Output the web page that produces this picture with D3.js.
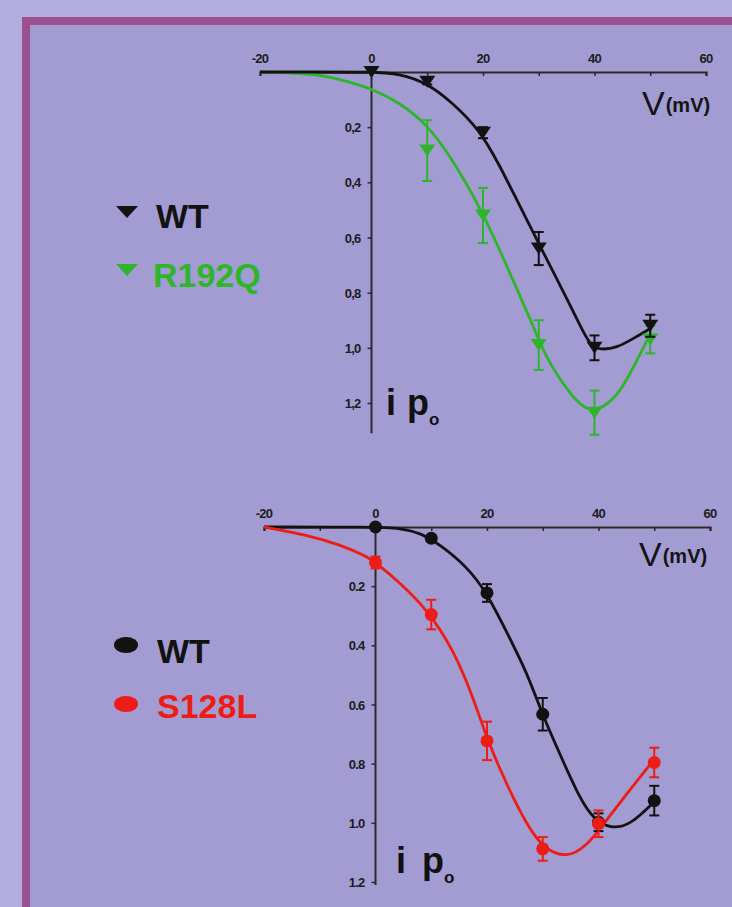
<!DOCTYPE html>
<html>
<head>
<meta charset="utf-8">
<script src="https://cdn.jsdelivr.net/npm/d3@7"></script>
<style>
  html, body { margin: 0; padding: 0; background: #b3addf; }
  svg { display: block; }
</style>
</head>
<body>
<svg id="chart" width="732" height="907"></svg>
<script>
// ---------- DATA ----------
const xTicks = [-20, 0, 20, 40, 60];
const xMinorTicks = [-10, 10, 30, 50];
const yTicks = [0.2, 0.4, 0.6, 0.8, 1.0, 1.2];
const yTickLabelsTop = ["0,2", "0,4", "0,6", "0,8", "1,0", "1,2"];
const yTickLabelsBottom = ["0.2", "0.4", "0.6", "0.8", "1.0", "1.2"];
const voltages = [0, 10, 20, 30, 40, 50];

// top panel: WT vs R192Q (down triangles)
const topWT = [0, 0.035, 0.22, 0.64, 1.0, 0.92];
const topWTerr = [0, 0.01, 0.02, 0.06, 0.045, 0.04];
const topR192Q = [0, 0.285, 0.52, 0.99, 1.235, 0.97];
const topR192Qerr = [0, 0.11, 0.10, 0.09, 0.08, 0.05];

const topWTfitV = [-20, -10, 0, 5, 10, 14.6, 19.4, 23, 25.4, 27.8, 30.2, 32.6, 35, 37.4, 39.2, 41, 44, 47, 50];
const topWTfit  = [0, 0, 0, 0.005, 0.04, 0.113, 0.21, 0.34, 0.437, 0.533, 0.63, 0.725, 0.82, 0.918, 0.99, 1.008, 1.0, 0.966, 0.93];
const topR192QfitV = [-20, -15, -10, -5, 0, 5, 10, 14.6, 20, 24.2, 29, 31.4, 35, 37.5, 39.8, 42, 44.6, 47, 50];
const topR192Qfit  = [0, 0.002, 0.008, 0.03, 0.06, 0.11, 0.19, 0.318, 0.51, 0.70, 0.92, 1.04, 1.15, 1.21, 1.23, 1.21, 1.16, 1.07, 0.95];

// bottom panel: WT vs S128L (circles)
const bottomWT = [0, 0.038, 0.223, 0.633, 0.998, 0.925];
const bottomWTerr = [0, 0.01, 0.03, 0.055, 0.03, 0.05];
const bottomS128L = [0.12, 0.296, 0.723, 1.088, 1.003, 0.796];
const bottomS128Lerr = [0.02, 0.05, 0.065, 0.04, 0.045, 0.05];

const bottomWTfitV = [-20, 0, 4.5, 8.1, 11.6, 16.4, 20, 23.6, 27.2, 29.9, 33.2, 36.7, 39.1, 42.1, 45.7, 50.2];
const bottomWTfit  = [0, 0, 0.004, 0.02, 0.06, 0.134, 0.223, 0.358, 0.493, 0.633, 0.773, 0.92, 0.987, 1.02, 1.009, 0.925];
const bottomS128LfitV = [-20, -12.2, -6.3, -1.5, 0, 4.5, 9.3, 14, 17.6, 20, 23.6, 27.2, 30.2, 34.4, 37.9, 40.3, 43.9, 50];
const bottomS128Lfit  = [0, 0.027, 0.06, 0.10, 0.12, 0.19, 0.28, 0.414, 0.58, 0.717, 0.874, 1.009, 1.088, 1.12, 1.076, 1.02, 0.93, 0.785];

// ---------- STYLE ----------
const BLACK = "#121212", GREEN = "#2fb52c", RED = "#ee1c17";
const FONT = "'Liberation Sans', Arial, sans-serif";

const svg = d3.select("#chart");

// background and frame
svg.append("rect").attr("x", 0).attr("y", 0).attr("width", 732).attr("height", 907).attr("fill", "#b3addf");
svg.append("rect").attr("x", 26).attr("y", 21).attr("width", 760).attr("height", 960)
  .attr("fill", "#a29cd3").attr("stroke", "#9b5190").attr("stroke-width", 8);

function drawPanel(cfg) {
  const x = d3.scaleLinear().domain([-20, 60]).range(cfg.xRange);
  const y = d3.scaleLinear().domain([0, 1.2]).range(cfg.yRange);
  const g = svg.append("g");

  // x axis
  const xAxis = d3.axisBottom(x).tickValues(xTicks.concat(xMinorTicks).sort((a,b)=>a-b))
    .tickSize(4).tickFormat("");
  const gx = g.append("g").attr("transform", `translate(0,${y(0)})`).call(xAxis);
  gx.select(".domain").attr("stroke", "#2b2b22").attr("stroke-width", 2.2);
  gx.selectAll(".tick line").attr("stroke", "#2b2b22").attr("stroke-width", 1.5);
  g.selectAll(".xlab").data(xTicks).join("text")
    .attr("x", d => x(d)).attr("y", cfg.xLabelY)
    .attr("text-anchor", "middle").attr("font-family", FONT).attr("font-weight", "bold")
    .attr("font-size", 13).attr("fill", "#1d1d1d").attr("letter-spacing", -0.8)
    .text(d => d);

  // y axis
  const yAxis = d3.axisLeft(y).tickValues(yTicks).tickSize(4).tickFormat("");
  const gy = g.append("g").attr("transform", `translate(${x(0)},0)`).call(yAxis);
  gy.select(".domain").remove();
  gy.selectAll(".tick line").attr("stroke", "#2b2b2b").attr("stroke-width", 1.5);
  g.append("line").attr("x1", x(0)).attr("x2", x(0)).attr("y1", y(0)).attr("y2", y(cfg.yAxisEnd))
    .attr("stroke", "#2a2a2a").attr("stroke-width", 2);
  g.selectAll(".ylab").data(yTicks).join("text")
    .attr("x", x(0) - cfg.yLabelGap).attr("y", d => y(d) + 5)
    .attr("text-anchor", "end").attr("font-family", FONT).attr("font-weight", "bold")
    .attr("font-size", 13).attr("fill", "#1d1d1d").attr("letter-spacing", -0.8)
    .text((d, i) => cfg.yLabels[i]);

  // V(mV) label
  const vl = g.append("text").attr("x", cfg.vLabel[0]).attr("y", cfg.vLabel[1])
    .attr("font-family", FONT).attr("fill", "#141414");
  vl.append("tspan").attr("font-size", 34).text("V");
  vl.append("tspan").attr("font-size", 20).attr("font-weight", "bold").attr("dy", -3).attr("dx", 1).text("(mV)");

  // i p_o label
  const ip = g.append("text").attr("x", cfg.ipLabel[0]).attr("y", cfg.ipLabel[1])
    .attr("font-family", FONT).attr("font-weight", "bold").attr("fill", "#111");
  ip.append("tspan").attr("font-size", 36).text("i");
  ip.append("tspan").attr("font-size", 36).attr("dx", cfg.ipGap).text("p");
  ip.append("tspan").attr("font-size", 17).attr("dy", 10).text("o");

  const line = d3.line().x(d => x(d[0])).y(d => y(d[1])).curve(d3.curveBasis);

  cfg.series.forEach(s => {
    const fit = s.fitV.map((v, i) => [v, s.fit[i]]);
    g.append("path").datum(fit).attr("d", line)
      .attr("fill", "none").attr("stroke", s.color).attr("stroke-width", 2.8);
  });
  cfg.series.forEach(s => {
    const pts = voltages.map((v, i) => ({ v, m: s.values[i], e: s.errors[i] }));
    const eg = g.append("g").attr("stroke", s.color).attr("stroke-width", 2);
    pts.filter(p => p.e > 0).forEach(p => {
      eg.append("line").attr("x1", x(p.v)).attr("x2", x(p.v)).attr("y1", y(p.m - p.e)).attr("y2", y(p.m + p.e));
      [p.m - p.e, p.m + p.e].forEach(yy => {
        eg.append("line").attr("x1", x(p.v) - 5).attr("x2", x(p.v) + 5).attr("y1", y(yy)).attr("y2", y(yy));
      });
    });
    if (s.shape === "tri") {
      g.selectAll(null).data(pts).join("path")
        .attr("d", d => `M${x(d.v) - 8},${y(d.m) - 6}L${x(d.v) + 8},${y(d.m) - 6}L${x(d.v)},${y(d.m) + 6}Z`)
        .attr("fill", s.color);
    } else {
      g.selectAll(null).data(pts).join("circle")
        .attr("cx", d => x(d.v)).attr("cy", d => y(d.m)).attr("r", 6.5)
        .attr("fill", s.color);
    }
  });

  // legend
  cfg.legend.forEach(l => {
    if (cfg.series[0].shape === "tri") {
      g.append("path").attr("d", `M${l.mx - 11},${l.my - 6}L${l.mx + 11},${l.my - 6}L${l.mx},${l.my + 6}Z`).attr("fill", l.color);
    } else {
      g.append("ellipse").attr("cx", l.mx).attr("cy", l.my).attr("rx", 12).attr("ry", 8).attr("fill", l.color);
    }
    g.append("text").attr("x", l.tx).attr("y", l.ty).attr("font-family", FONT).attr("font-weight", "bold")
      .attr("font-size", 34).attr("fill", l.color).text(l.text);
  });
}

drawPanel({
  xRange: [260, 706], yRange: [72, 403], yAxisEnd: 1.31, xLabelY: 63, yLabelGap: 11,
  yLabels: yTickLabelsTop, vLabel: [642, 115], ipLabel: [386, 415], ipGap: 11,
  series: [
    { color: GREEN, shape: "tri", values: topR192Q, errors: topR192Qerr, fitV: topR192QfitV, fit: topR192Qfit },
    { color: BLACK, shape: "tri", values: topWT, errors: topWTerr, fitV: topWTfitV, fit: topWTfit }
  ],
  legend: [
    { text: "WT", color: BLACK, mx: 127, my: 212, tx: 156, ty: 228 },
    { text: "R192Q", color: GREEN, mx: 127, my: 270, tx: 153, ty: 287 }
  ]
});

drawPanel({
  xRange: [264, 710], yRange: [527, 882], yAxisEnd: 1.21, xLabelY: 518, yLabelGap: 11,
  yLabels: yTickLabelsBottom, vLabel: [639, 566], ipLabel: [396, 873], ipGap: 16,
  series: [
    { color: BLACK, shape: "circle", values: bottomWT, errors: bottomWTerr, fitV: bottomWTfitV, fit: bottomWTfit },
    { color: RED, shape: "circle", values: bottomS128L, errors: bottomS128Lerr, fitV: bottomS128LfitV, fit: bottomS128Lfit }
  ],
  legend: [
    { text: "WT", color: BLACK, mx: 126, my: 645, tx: 157, ty: 663 },
    { text: "S128L", color: RED, mx: 126, my: 704, tx: 157, ty: 718 }
  ]
});
</script>
</body>
</html>
